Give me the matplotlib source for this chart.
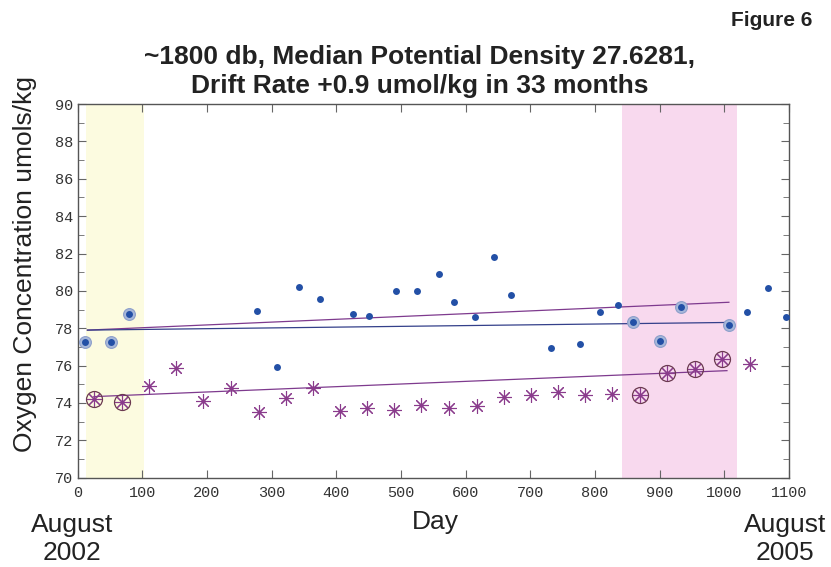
import matplotlib
matplotlib.use("Agg")
import matplotlib.pyplot as plt
from matplotlib.ticker import MultipleLocator

# float A (dots) -- day, oxygen
dot_days = [11, 51, 80, 278, 308, 342, 374, 425, 451, 492, 524, 559, 582,
            615, 643, 670, 732, 776, 808, 836, 858, 901, 933, 1007, 1035, 1067, 1095]
dot_vals = [77.26, 77.26, 78.76, 78.92, 75.94, 80.2, 79.54, 78.76, 78.67, 79.97, 79.97,
            80.88, 79.42, 78.61, 81.83, 79.76, 76.95, 77.15, 78.85, 79.26, 78.33, 77.31,
            79.12, 78.19, 78.87, 80.17, 78.6]
# dots matched with calibration casts (circled)
dot_cal_days = [11, 51, 80, 858, 901, 933, 1007]
dot_cal_vals = [77.26, 77.26, 78.76, 78.33, 77.31, 79.12, 78.19]

# float B (asterisks)
star_days = [25, 68, 111, 152, 194, 237, 280, 322, 364, 406, 448, 489, 531, 574,
             617, 659, 701, 743, 785, 827, 870, 912, 954, 996, 1039]
star_vals = [74.19, 74.06, 74.9, 75.85, 74.1, 74.78, 73.51, 74.24, 74.8, 73.57, 73.75,
             73.62, 73.9, 73.75, 73.85, 74.3, 74.44, 74.58, 74.42, 74.48, 74.41, 75.6,
             75.8, 76.33, 76.08]
star_cal_days = [25, 68, 870, 912, 954, 996]
star_cal_vals = [74.19, 74.06, 74.41, 75.6, 75.8, 76.33]

# drift lines (start/end)
fit_a_days = [15, 1007]
fit_a_vals = [77.9, 78.31]
fit_a2_days = [15, 1007]
fit_a2_vals = [77.9, 79.39]
fit_b_days = [25, 1004]
fit_b_vals = [74.34, 75.73]

# calibration windows
start_window = (13, 103)
end_window = (842, 1020)

DOT_COLOR = "#2350a6"
STAR_COLOR = "#8a3b8c"
LINE_PURPLE = "#7e3a8e"
LINE_BLUE = "#34408a"

fig = plt.figure(figsize=(8.31, 5.67), dpi=100)
ax = fig.add_axes([0.0935, 0.1575, 0.856, 0.659])

ax.axvspan(*start_window, color="#fcfbe0", lw=0, zorder=0)
ax.axvspan(*end_window, color="#f8d9ee", lw=0, zorder=0)

ax.plot(fit_a2_days, fit_a2_vals, color=LINE_PURPLE, lw=0.9, zorder=2)
ax.plot(fit_a_days, fit_a_vals, color=LINE_BLUE, lw=0.9, zorder=2)
ax.plot(fit_b_days, fit_b_vals, color=LINE_PURPLE, lw=0.9, zorder=2)

ax.plot(dot_cal_days, dot_cal_vals, "o", ms=8.5, mfc="#a7b8da", mec="#8d9fca",
        mew=0.8, zorder=3)
ax.plot(dot_days, dot_vals, "o", ms=5, color=DOT_COLOR, mec="none", zorder=4)

ax.plot(star_cal_days, star_cal_vals, "o", ms=11.5, mfc="none", mec="#6b3a50",
        mew=0.9, zorder=3)
ax.plot(star_days, star_vals, ls="none", marker=(8, 2, 0), ms=10.5, color=STAR_COLOR,
        mew=0.8, zorder=4)

ax.set_xlim(0, 1100)
ax.set_ylim(70, 90)
ax.xaxis.set_major_locator(MultipleLocator(100))
ax.yaxis.set_major_locator(MultipleLocator(2))
ax.yaxis.set_minor_locator(MultipleLocator(1))

for s in ax.spines.values():
    s.set_color("#555555")
    s.set_linewidth(1.0)
ax.tick_params(which="both", direction="in", top=True, right=True, colors="#666666",
               labelcolor="#333333", labelsize=11)
ax.tick_params(which="major", length=6)
ax.tick_params(which="minor", length=4)
ax.tick_params(axis="x", pad=6)
for lab in ax.get_xticklabels() + ax.get_yticklabels():
    lab.set_family(["Liberation Mono", "DejaVu Sans Mono"])

sans = ["Liberation Sans", "DejaVu Sans"]
fig.text(812 / 831, 1 - 20 / 567, "Figure 6", ha="right", va="center",
         fontsize=15, fontweight="bold", family=sans, color="#222222")
fig.text(420 / 831, 1 - 57 / 567, "~1800 db, Median Potential Density 27.6281,",
         ha="center", va="center", fontsize=19, fontweight="bold", family=sans,
         color="#222222")
fig.text(420 / 831, 1 - 86 / 567, "Drift Rate +0.9 umol/kg in 33 months",
         ha="center", va="center", fontsize=19, fontweight="bold", family=sans,
         color="#222222")
fig.text(25 / 831, 1 - 264 / 567, "Oxygen Concentration umols/kg", rotation=90,
         ha="center", va="center", fontsize=19, family=sans, color="#222222")
fig.text(435 / 831, 1 - 522 / 567, "Day", ha="center", va="center", fontsize=19,
         family=sans, color="#222222")
fig.text(72 / 831, 1 - 539 / 567, "August\n2002", ha="center", va="center",
         fontsize=19, family=sans, color="#222222", linespacing=1.2)
fig.text(785 / 831, 1 - 539 / 567, "August\n2005", ha="center", va="center",
         fontsize=19, family=sans, color="#222222", linespacing=1.2)

fig.savefig("out.png", dpi=100)
